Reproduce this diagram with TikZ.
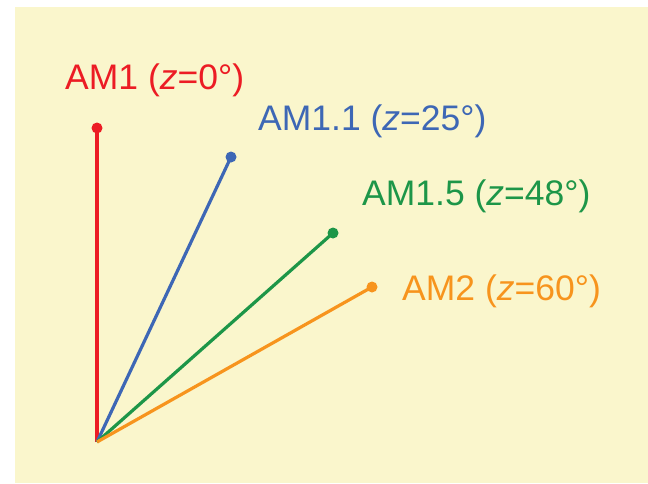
\documentclass[tikz,border=0pt]{standalone}
\usepackage{fontspec}
\setmainfont{Liberation Sans}
\definecolor{bgy}{HTML}{FAF6CC}
\definecolor{cred}{HTML}{EC1C24}
\definecolor{cblue}{HTML}{3D67B5}
\definecolor{cgreen}{HTML}{1D9648}
\definecolor{corange}{HTML}{F7941D}
\tikzset{
  ray/.style={line width=3.2pt},
  dot/.style={circle, fill, inner sep=0pt, minimum size=11pt},
  lbl/.style={anchor=base west, inner sep=0pt, font=\fontsize{35.5}{40}\selectfont},
}
\begin{document}
\begin{tikzpicture}[x=1pt,y=-1pt]
\useasboundingbox (0,0) rectangle (648,483);
\fill[bgy] (15,7) rectangle (648,483);
\coordinate (O) at (97,442);
\node[dot, cred] (p1) at (97,128) {};
\node[dot, cblue] (p2) at (231,157) {};
\node[dot, cgreen] (p3) at (333,233) {};
\node[dot, corange] (p4) at (372,287) {};
\draw[ray, cred] (O) -- (p1.center);
\draw[ray, cblue] (O) -- (p2.center);
\draw[ray, cgreen] (O) -- (p3.center);
\draw[ray, corange] (O) -- (p4.center);
\node[lbl, text=cred] (t1) at (65,89) {AM1 (\textit{z}=0°)};
\node[lbl, text=cblue] (t2) at (258,130) {AM1.1 (\textit{z}=25°)};
\node[lbl, text=cgreen] (t3) at (362,205) {AM1.5 (\textit{z}=48°)};
\node[lbl, text=corange] (t4) at (402,300) {AM2 (\textit{z}=60°)};
\end{tikzpicture}
\end{document}
